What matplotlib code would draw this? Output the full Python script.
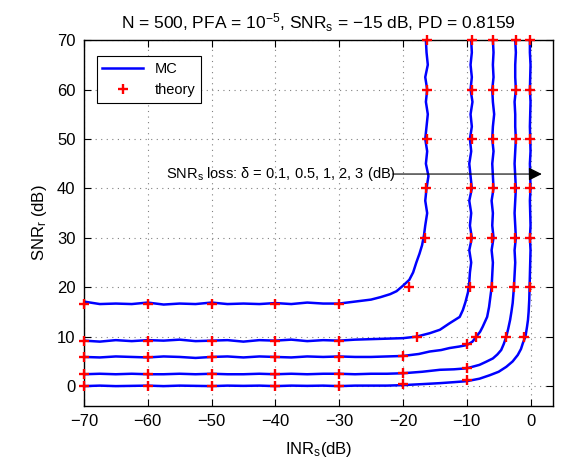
import numpy as np
import matplotlib
matplotlib.use('Agg')
import matplotlib.pyplot as plt

plt.rcParams['font.family'] = ['Liberation Sans', 'DejaVu Sans']
plt.rcParams['mathtext.fontset'] = 'custom'
plt.rcParams['mathtext.rm'] = 'Liberation Sans'
plt.rcParams['mathtext.it'] = 'Liberation Sans:italic'

# MC curves, (INR_s, SNR_r) pairs, one per SNR_s loss delta
mc_01 = [(-70, 17.1), (-67.5, 16.6), (-65, 16.7), (-62.5, 16.6), (-60, 16.9), (-57.5, 16.5),
         (-55, 16.7), (-52.5, 16.6), (-50, 16.9), (-47.5, 16.6), (-45, 16.7), (-42.5, 16.6),
         (-40, 16.8), (-37.5, 16.6), (-35, 16.9), (-32.5, 16.7), (-30, 16.7), (-27.5, 17.1),
         (-25, 17.5), (-23.5, 18.0), (-22, 18.6), (-21, 19.2), (-20, 20.3), (-19, 21.5),
         (-18.4, 23.0), (-17.9, 25.0), (-17.4, 26.8), (-17.0, 28.5), (-16.7, 30.5), (-16.5, 32.5),
         (-16.2, 35), (-16.5, 37.5), (-16.3, 40), (-16.0, 42.5), (-16.4, 45), (-16.2, 47.5),
         (-16.5, 50), (-16.3, 52.5), (-16.1, 55), (-16.4, 57.5), (-16.2, 60), (-16.5, 62.5),
         (-16.1, 65), (-16.3, 67.5), (-16.4, 70)]
mc_05 = [(-70, 9.2), (-67.5, 9.0), (-65, 9.3), (-62.5, 9.1), (-60, 9.3), (-57.5, 9.2),
         (-55, 9.4), (-52.5, 9.1), (-50, 9.2), (-47.5, 9.3), (-45, 9.0), (-42.5, 9.3),
         (-40, 9.2), (-37.5, 9.4), (-35, 9.1), (-32.5, 9.3), (-30, 9.2), (-27.5, 9.4),
         (-25, 9.5), (-22.5, 9.6), (-20, 9.7), (-17.9, 10.0), (-15.8, 10.7), (-14.2, 11.4),
         (-12.7, 12.7), (-11.1, 14.0), (-10.6, 15.4), (-10.2, 17.0), (-9.8, 19.0), (-9.6, 21.0),
         (-9.5, 23.0), (-9.3, 25), (-9.6, 27.5), (-9.2, 30), (-9.5, 32.5), (-9.3, 35),
         (-9.6, 37.5), (-9.2, 40), (-9.4, 42.5), (-9.6, 45), (-9.3, 47.5), (-9.5, 50),
         (-9.2, 52.5), (-9.4, 55), (-9.1, 57.5), (-9.4, 60), (-9.2, 62.5), (-9.4, 65),
         (-9.2, 67.5), (-9.3, 70)]
mc_1 = [(-70, 5.9), (-67.5, 5.8), (-65, 6.0), (-62.5, 5.9), (-60, 5.8), (-57.5, 6.0),
        (-55, 5.9), (-52.5, 5.7), (-50, 5.9), (-47.5, 6.0), (-45, 5.8), (-42.5, 6.0),
        (-40, 5.9), (-37.5, 5.8), (-35, 6.0), (-32.5, 5.9), (-30, 6.0), (-27.5, 5.9),
        (-25, 5.9), (-22.5, 6.0), (-20, 6.1), (-17.5, 6.5), (-15.8, 7.0), (-14, 7.3),
        (-12.7, 7.7), (-11.2, 8.0), (-10, 8.3), (-9.1, 9.0), (-8.5, 10.0), (-7.9, 11.0),
        (-7.5, 12.0), (-6.8, 14.0), (-6.5, 16.0), (-6.3, 18.0), (-6.1, 20.0), (-6.0, 22.5),
        (-5.9, 25), (-6.1, 27.5), (-5.8, 30), (-6.0, 32.5), (-5.9, 35), (-6.1, 37.5),
        (-5.8, 40), (-5.9, 42.5), (-6.0, 45), (-5.8, 47.5), (-6.0, 50), (-5.9, 52.5),
        (-5.7, 55), (-5.9, 57.5), (-6.0, 60), (-5.8, 62.5), (-5.9, 65), (-5.8, 67.5),
        (-5.9, 70)]
mc_2 = [(-70, 2.4), (-67.5, 2.5), (-65, 2.4), (-62.5, 2.5), (-60, 2.4), (-57.5, 2.4),
        (-55, 2.5), (-52.5, 2.4), (-50, 2.5), (-47.5, 2.4), (-45, 2.4), (-42.5, 2.5),
        (-40, 2.4), (-37.5, 2.5), (-35, 2.4), (-32.5, 2.5), (-30, 2.5), (-27.5, 2.4),
        (-25, 2.5), (-22.5, 2.5), (-20, 2.6), (-17, 2.9), (-14.2, 3.3), (-12, 3.4),
        (-10, 3.6), (-8, 4.3), (-7, 4.9), (-5.9, 5.6), (-5.2, 6.4), (-4.6, 7.3),
        (-4.2, 8.5), (-3.8, 10.0), (-3.5, 11.6), (-3.2, 13.4), (-3.0, 15.0), (-2.8, 16.8),
        (-2.7, 18.4), (-2.6, 20.0), (-2.5, 22.5), (-2.4, 25), (-2.5, 27.5), (-2.3, 30),
        (-2.4, 32.5), (-2.5, 35), (-2.4, 37.5), (-2.3, 40), (-2.4, 42.5), (-2.5, 45),
        (-2.4, 47.5), (-2.3, 50), (-2.4, 52.5), (-2.4, 55), (-2.5, 57.5), (-2.3, 60),
        (-2.4, 62.5), (-2.4, 65), (-2.3, 67.5), (-2.4, 70)]
mc_3 = [(-70, 0.0), (-67.5, 0.1), (-65, 0.0), (-62.5, 0.05), (-60, 0.1), (-57.5, 0.0),
        (-55, 0.1), (-52.5, 0.05), (-50, 0.0), (-47.5, 0.1), (-45, 0.05), (-42.5, 0.1),
        (-40, 0.0), (-37.5, 0.1), (-35, 0.05), (-32.5, 0.1), (-30, 0.0), (-27.5, 0.1),
        (-25, 0.1), (-22.5, 0.1), (-20, 0.2), (-17, 0.4), (-14.2, 0.6), (-12, 0.8),
        (-10, 1.0), (-8, 1.5), (-6.4, 2.2), (-5, 2.9), (-3.8, 3.9), (-2.8, 5.0),
        (-2, 6.3), (-1.5, 7.5), (-1.2, 8.7), (-0.8, 10.0), (-0.55, 12.0), (-0.4, 13.4),
        (-0.3, 15.0), (-0.2, 17.5), (-0.15, 20.0), (-0.1, 22.5), (-0.05, 25), (0.0, 27.5),
        (-0.1, 30), (0.0, 32.5), (-0.05, 35), (-0.1, 37.5), (0.0, 40), (-0.05, 42.5),
        (-0.1, 45), (0.0, 47.5), (-0.05, 50), (-0.1, 52.5), (-0.05, 55), (0.0, 57.5),
        (-0.1, 60), (-0.05, 62.5), (0.0, 65), (-0.1, 67.5), (-0.1, 70)]

# theory points
th_01 = [(-70, 16.6), (-60, 16.6), (-50, 16.6), (-40, 16.6), (-30, 16.6), (-19.0, 20),
         (-16.6, 30), (-16.4, 40), (-16.3, 50), (-16.3, 60), (-16.3, 70)]
th_05 = [(-70, 9.2), (-60, 9.2), (-50, 9.2), (-40, 9.2), (-30, 9.2), (-17.8, 10),
         (-9.5, 20), (-9.35, 30), (-9.3, 40), (-9.2, 50), (-9.2, 60), (-9.2, 70)]
th_1 = [(-70, 5.95), (-60, 5.95), (-50, 5.95), (-40, 5.95), (-30, 5.95), (-20, 6.1),
        (-10, 8.5), (-8.5, 10), (-6.0, 20), (-6.0, 30), (-5.95, 40), (-5.9, 50),
        (-5.9, 60), (-5.9, 70)]
th_2 = [(-70, 2.45), (-60, 2.45), (-50, 2.45), (-40, 2.45), (-30, 2.45), (-20, 2.7),
        (-10, 3.7), (-3.9, 10), (-2.6, 20), (-2.45, 30), (-2.4, 40), (-2.35, 50),
        (-2.35, 60), (-2.35, 70)]
th_3 = [(-70, 0.08), (-60, 0.08), (-50, 0.08), (-40, 0.08), (-30, 0.08), (-20, 0.36),
        (-10, 1.3), (-1.1, 10), (-0.15, 20), (-0.1, 30), (-0.05, 40), (-0.05, 50),
        (-0.05, 60), (-0.05, 70)]

mc_curves = [mc_01, mc_05, mc_1, mc_2, mc_3]
th_curves = [th_01, th_05, th_1, th_2, th_3]

fig = plt.figure(figsize=(5.63, 4.66), dpi=100)
ax = fig.add_axes([0.149, 0.129, 0.833, 0.785])

for i, pts in enumerate(mc_curves):
    x, y = zip(*pts)
    ax.plot(x, y, color='#0000ff', lw=1.8, label='MC' if i == 0 else None)
for i, pts in enumerate(th_curves):
    x, y = zip(*pts)
    ax.plot(x, y, '+', color='#ff0000', ms=7, mew=1.7, clip_on=False, zorder=5,
            label='theory' if i == 0 else None)

ax.set_xlim(-70, 3.5)
ax.set_ylim(-4, 70)
ax.set_xticks(np.arange(-70, 1, 10))
ax.set_yticks(np.arange(0, 71, 10))
ax.set_xticklabels(['\u221270', '\u221260', '\u221250', '\u221240', '\u221230',
                    '\u221220', '\u221210', '0'])
ax.tick_params(direction='in', length=5, width=0.8, labelsize=12, top=True, right=True, pad=6)
ax.grid(True, linestyle=(0, (1, 4)), color='0.5', linewidth=0.8)
for s in ax.spines.values():
    s.set_linewidth(1.0)

ax.set_xlabel('INR$_\\mathrm{s}$(dB)', fontsize=12, labelpad=8)
ax.set_ylabel('SNR$_\\mathrm{r}$ (dB)', fontsize=12, labelpad=6)
ax.set_title('N = 500, PFA = 10$^{-5}$, SNR$_\\mathrm{s}$ = \u221215 dB, PD = 0.8159',
             fontsize=12.5, pad=8)

ax.annotate('', xy=(2.2, 42.9), xytext=(-22, 42.9),
            arrowprops=dict(arrowstyle='-|>', color='k', lw=0.8, mutation_scale=20))
ax.text(-57.2, 42.9, 'SNR$_\\mathrm{s}$ loss: \u03b4 = 0.1, 0.5, 1, 2, 3 (dB)',
        fontsize=10.5, ha='left', va='center')

leg = ax.legend(loc='upper left', bbox_to_anchor=(0.027, 0.957), borderaxespad=0,
                fancybox=False, edgecolor='k', framealpha=1, fontsize=10.5,
                handlelength=2.8, borderpad=0.4, labelspacing=0.5)
leg.get_frame().set_linewidth(0.8)

fig.savefig('out.png', dpi=100)
